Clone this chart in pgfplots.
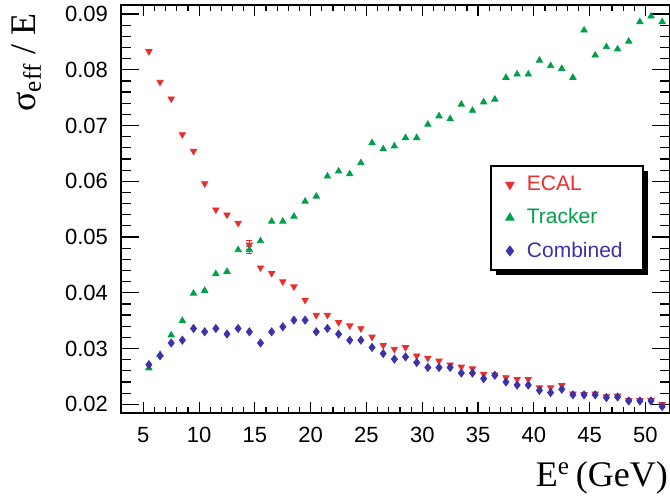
\documentclass[border=0pt]{standalone}
\usepackage{pgfplots}
\pgfplotsset{compat=1.18}
\usepackage{fontspec}
\setmainfont{Liberation Sans}
\newfontfamily\serif{Liberation Serif}
\usetikzlibrary{shadows,calc}
\definecolor{cred}{RGB}{235,45,45}
\definecolor{cgreen}{RGB}{0,160,75}
\definecolor{cblue}{RGB}{60,50,170}
\begin{document}
\begin{tikzpicture}
\begin{axis}[
  name=ax,
  scale only axis,
  width=274.5pt, height=204pt,
  xmin=3, xmax=52.2,
  ymin=0.01844, ymax=0.09162,
  axis line style={line width=1pt},
  tick align=inside,
  xtick={5,10,...,50},
  ytick={0.02,0.03,...,0.09},
  minor x tick num=4,
  minor y tick num=4,
  major tick length=7pt,
  minor tick length=4pt,
  tick style={black, line width=0.6pt},
  xtick style={/pgfplots/major tick length=5.5pt, /pgfplots/minor tick length=3pt},
  ytick style={/pgfplots/major tick length=9pt, /pgfplots/minor tick length=5pt},
  scaled y ticks=false,
  /pgf/number format/assume math mode=true,
  yticklabel style={/pgf/number format/fixed, /pgf/number format/precision=2, /pgf/number format/fixed zerofill, font=\fontsize{11}{13}\selectfont, xshift=-3pt},
  xticklabel style={font=\fontsize{11}{13}\selectfont, yshift=-3.5pt},
  xlabel={{\serif E\textsuperscript{e}\,(GeV)}},
  ylabel={{\serif σ\textsubscript{eff} / E}},
  xlabel style={font=\fontsize{18}{20}\selectfont, at={(rel axis cs:0.997,-0.181)}, anchor=base east, inner sep=0pt},
  ylabel style={font=\fontsize{18}{20}\selectfont, at={(rel axis cs:-0.1566,0.98)}, anchor=base east, inner sep=0pt},
  legend cell align=left,
  legend image code/.code={\path (0pt,0pt) (13pt,0pt); \draw[#1] plot coordinates {(7pt,0pt)};},
  legend style={at={(rel axis cs:0.672,0.608)}, anchor=north west, draw=black, line width=1pt, fill=white,
    font=\fontsize{10.5}{12.6}\selectfont, row sep=3.5pt, inner xsep=2pt, inner ysep=3pt,
    drop shadow={shadow xshift=2.5pt, shadow yshift=-2.5pt, fill=black, opacity=1}},
]
\addplot[only marks, mark=triangle*, mark size=1.8pt, color=cred, mark options={rotate=180}] coordinates {
(5.5,0.0833) (6.5,0.0778) (7.5,0.0748) (8.5,0.0684) (9.5,0.0654) (10.5,0.0596) (11.5,0.0549) (12.5,0.0540)
(13.5,0.0525) (14.5,0.0486) (15.5,0.0445) (16.5,0.0435) (17.5,0.0420) (18.5,0.0411) (19.5,0.0387) (20.5,0.0360)
(21.5,0.0360) (22.5,0.0347) (23.5,0.0341) (24.5,0.0336) (25.5,0.0321) (26.5,0.0306) (27.5,0.0299) (28.5,0.0302)
(29.5,0.0287) (30.5,0.0283) (31.5,0.0278) (32.5,0.0271) (33.5,0.0267) (34.5,0.0264) (35.5,0.0254) (36.5,0.0253)
(37.5,0.0248) (38.5,0.0245) (39.5,0.0245) (40.5,0.0230) (41.5,0.0230) (42.5,0.0234) (43.5,0.0219) (44.5,0.0218)
(45.5,0.0219) (46.5,0.0214) (47.5,0.0215) (48.5,0.0207) (49.5,0.0207) (50.5,0.0207) (51.5,0.0200)
};
\addlegendentry{\textcolor{cred}{ECAL}}
\addplot[only marks, mark=triangle*, mark size=1.8pt, color=cgreen] coordinates {
(5.5,0.0265) (6.5,0.0289) (7.5,0.0324) (8.5,0.0350) (9.5,0.0399) (10.5,0.0404) (11.5,0.0434) (12.5,0.0438)
(13.5,0.0477) (14.5,0.0477) (15.5,0.0493) (16.5,0.0528) (17.5,0.0528) (18.5,0.0537) (19.5,0.0564) (20.5,0.0573)
(21.5,0.0609) (22.5,0.0618) (23.5,0.0613) (24.5,0.0633) (25.5,0.0669) (26.5,0.0658) (27.5,0.0663) (28.5,0.0678)
(29.5,0.0678) (30.5,0.0702) (31.5,0.0717) (32.5,0.0712) (33.5,0.0738) (34.5,0.0727) (35.5,0.0742) (36.5,0.0747)
(37.5,0.0786) (38.5,0.0792) (39.5,0.0792) (40.5,0.0817) (41.5,0.0807) (42.5,0.0802) (43.5,0.0786) (44.5,0.0871)
(45.5,0.0826) (46.5,0.0841) (47.5,0.0837) (48.5,0.0851) (49.5,0.0886) (50.5,0.0896) (51.5,0.0886)
};
\addlegendentry{\textcolor{cgreen}{Tracker}}
\addplot[only marks, mark=diamond*, mark size=2pt, color=cblue] coordinates {
(5.5,0.0271) (6.5,0.0287) (7.5,0.0310) (8.5,0.0315) (9.5,0.0336) (10.5,0.0330) (11.5,0.0336) (12.5,0.0326)
(13.5,0.0336) (14.5,0.0330) (15.5,0.0310) (16.5,0.0330) (17.5,0.0339) (18.5,0.0351) (19.5,0.0351) (20.5,0.0330)
(21.5,0.0336) (22.5,0.0326) (23.5,0.0315) (24.5,0.0315) (25.5,0.0302) (26.5,0.0291) (27.5,0.0281) (28.5,0.0285)
(29.5,0.0275) (30.5,0.0266) (31.5,0.0266) (32.5,0.0266) (33.5,0.0256) (34.5,0.0256) (35.5,0.0246) (36.5,0.0252)
(37.5,0.0240) (38.5,0.02345) (39.5,0.02345) (40.5,0.0225) (41.5,0.0221) (42.5,0.0227) (43.5,0.0217) (44.5,0.0217)
(45.5,0.0217) (46.5,0.0212) (47.5,0.0213) (48.5,0.0206) (49.5,0.0206) (50.5,0.0206) (51.5,0.0196)
};
\addlegendentry{\textcolor{cblue}{Combined}\hspace*{6pt}}
\addplot[forget plot, cred, mark=none, draw=none, error bars/.cd, y dir=both, y explicit,
  error bar style={line width=0.6pt}, error mark options={rotate=90, mark size=1.5pt, line width=0.6pt}]
  coordinates {(14.5,0.0486) +- (0,0.0008)};
\addplot[forget plot, cgreen, mark=none, draw=none, error bars/.cd, y dir=both, y explicit,
  error bar style={line width=0.6pt}, error mark options={rotate=90, mark size=1.5pt, line width=0.6pt}]
  coordinates {(14.5,0.0477) +- (0,0.0006)};
\end{axis}
\pgfresetboundingbox
\path (ax.south west) ++(-60.5pt,-42.5pt) rectangle ($(ax.north east)+(0,2.5pt)$);
\end{tikzpicture}
\end{document}
